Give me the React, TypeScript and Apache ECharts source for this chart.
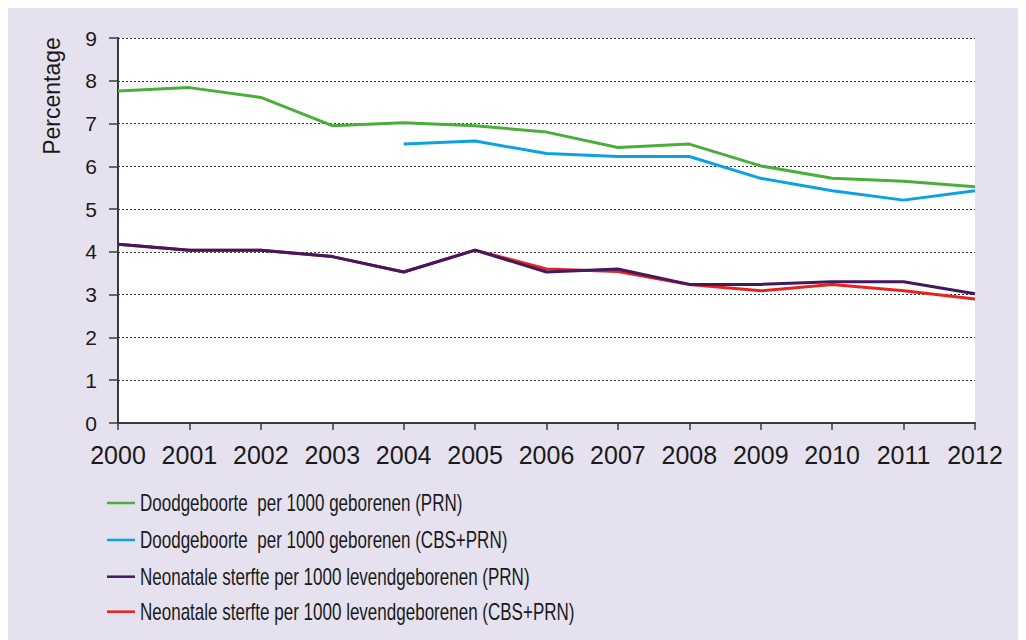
import React, { useEffect, useRef } from "react";
import * as echarts from "echarts";

const years = ["2000", "2001", "2002", "2003", "2004", "2005", "2006", "2007", "2008", "2009", "2010", "2011", "2012"];
const doodPRN = [7.76, 7.84, 7.61, 6.95, 7.02, 6.95, 6.8, 6.44, 6.52, 6.01, 5.72, 5.65, 5.52];
const doodCBS = [null, null, null, null, 6.52, 6.59, 6.3, 6.23, 6.23, 5.72, 5.43, 5.21, 5.43];
const neoPRN = [4.18, 4.04, 4.04, 3.89, 3.53, 4.04, 3.53, 3.6, 3.24, 3.24, 3.3, 3.3, 3.02];
const neoCBS = [4.18, 4.04, 4.04, 3.89, 3.53, 4.04, 3.6, 3.54, 3.24, 3.09, 3.24, 3.09, 2.9];
const seriesNames = [
  "Doodgeboorte  per 1000 geborenen (PRN)",
  "Doodgeboorte  per 1000 geborenen (CBS+PRN)",
  "Neonatale sterfte per 1000 levendgeborenen (PRN)",
  "Neonatale sterfte per 1000 levendgeborenen (CBS+PRN)",
];
const colors = ["#4aae3a", "#0ba2e3", "#44185f", "#e8231d"];

export default function App() {
  const ref = useRef<HTMLDivElement>(null);
  useEffect(() => {
    if (!ref.current) return;
    const chart = echarts.init(ref.current, undefined, { renderer: "svg" });
    const axisFont = "'Liberation Sans', Arial, sans-serif";
    const mk = (i: number, data: (number | null)[], z: number) => ({
      name: seriesNames[i],
      type: "line",
      data,
      symbol: "none",
      z,
      connectNulls: false,
      lineStyle: { color: colors[i], width: 3 },
      itemStyle: { color: colors[i] },
    });
    const rowY = [495, 532, 568.7, 603.7];
    const legendGraphics: any[] = [];
    seriesNames.forEach((name, i) => {
      legendGraphics.push({
        type: "line",
        shape: { x1: 99, y1: rowY[i], x2: 127, y2: rowY[i] },
        style: { stroke: colors[i], lineWidth: 2.5 },
      });
      legendGraphics.push({
        type: "text",
        x: 132,
        y: rowY[i],
        scaleX: 0.74,
        style: {
          text: name,
          fontSize: 23,
          fontFamily: axisFont,
          fill: "#1a1a1a",
          align: "left",
          verticalAlign: "middle",
        },
      });
    });
    chart.setOption({
      animation: false,
      backgroundColor: "#e5e1ee",
      grid: {
        left: 110,
        right: 51,
        top: 30,
        bottom: 217,
        show: true,
        backgroundColor: "#ffffff",
        borderWidth: 0,
      },
      xAxis: {
        type: "category",
        data: years,
        boundaryGap: false,
        axisLine: { show: true, lineStyle: { color: "#3a3a3a", width: 2 } },
        axisTick: { show: true, length: 7, interval: 0, lineStyle: { color: "#3a3a3a", width: 1.5 } },
        axisLabel: { color: "#1a1a1a", fontSize: 25, fontFamily: axisFont, margin: 19, interval: 0 },
        splitLine: { show: false },
      },
      yAxis: {
        type: "value",
        min: 0,
        max: 9,
        interval: 1,
        axisLine: { show: true, lineStyle: { color: "#3a3a3a", width: 2 } },
        axisTick: { show: true, length: 9, lineStyle: { color: "#3a3a3a", width: 1.5 } },
        axisLabel: { color: "#1a1a1a", fontSize: 21, fontFamily: axisFont, margin: 21 },
        splitLine: { show: true, lineStyle: { color: "#333333", width: 1, type: [2, 2] } },
      },
      graphic: [
        {
          type: "text",
          x: 44,
          y: 88,
          rotation: Math.PI / 2,
          style: {
            text: "Percentage",
            fontSize: 23,
            fontFamily: axisFont,
            fill: "#1a1a1a",
            align: "center",
            verticalAlign: "middle",
          },
        },
        ...legendGraphics,
      ],
      series: [mk(0, doodPRN, 2), mk(1, doodCBS, 2), mk(3, neoCBS, 2), mk(2, neoPRN, 3)],
    });
    return () => chart.dispose();
  }, []);
  return <div ref={ref} style={{ width: 1018, height: 632 }} />;
}
